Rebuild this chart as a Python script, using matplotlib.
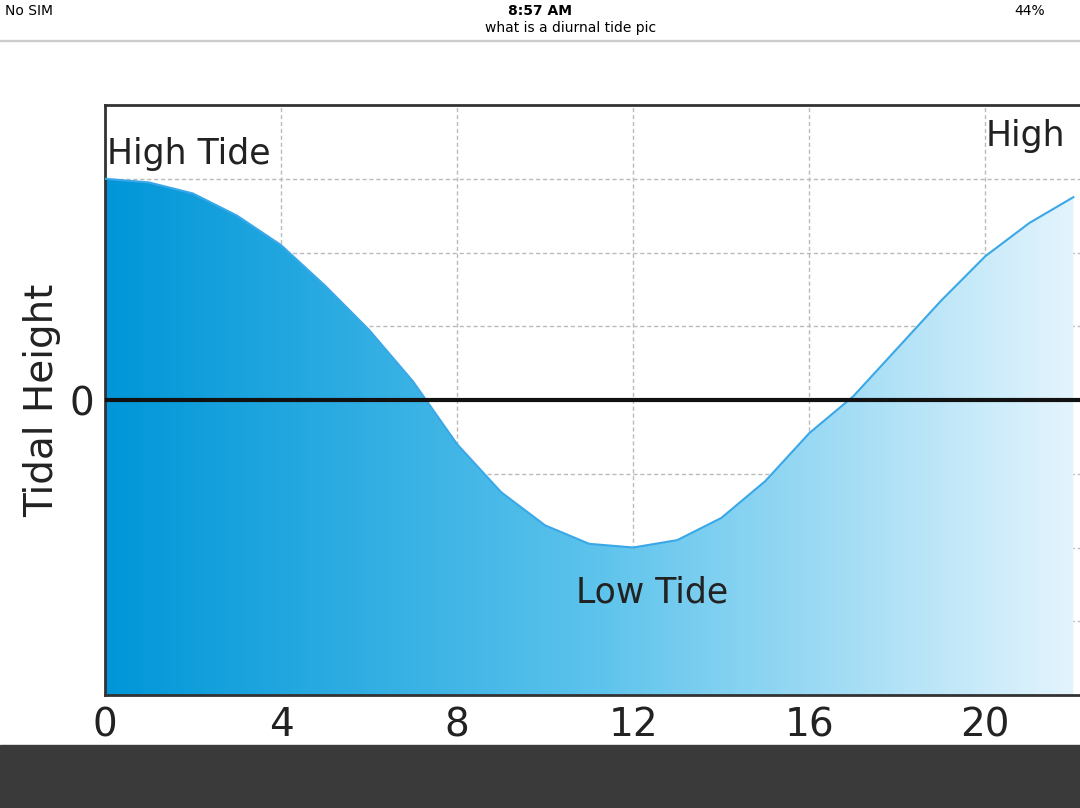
import matplotlib
matplotlib.use("Agg")
import matplotlib.pyplot as plt
import numpy as np
from matplotlib.colors import LinearSegmentedColormap
from matplotlib.patches import Rectangle

hours = list(range(23))
height = [3.0, 2.95, 2.8, 2.5, 2.1, 1.55, 0.95, 0.25, -0.6, -1.25, -1.7, -1.95,
          -2.0, -1.9, -1.6, -1.1, -0.45, 0.05, 0.7, 1.35, 1.95, 2.4, 2.75]
xticks = [0, 4, 8, 12, 16, 20]

fig = plt.figure(figsize=(10.8, 8.08), dpi=100)
fig.patch.set_facecolor("white")
ax = fig.add_axes([105/1080, 113/808, 1 - 105/1080 + 0.002, 590/808])
ax.set_xlim(0, 22.2)
ax.set_ylim(-4, 4)

x = np.array(hours, float); y = np.array(height)
cmap = LinearSegmentedColormap.from_list("g", ["#0096d8", "#5cc3ec", "#e6f5fd"])
img = ax.imshow(np.linspace(0, 1, 256)[None, :], extent=[0, 22.2, -4, 4], aspect="auto",
                cmap=cmap, zorder=1)
poly = ax.fill_between(x, y, -4, color="none")
path = poly.get_paths()[0]
from matplotlib.patches import PathPatch
pp = PathPatch(path, transform=ax.transData, facecolor="none", edgecolor="none")
ax.add_patch(pp)
img.set_clip_path(pp)
ax.plot(x, y, color="#3aa8e8", lw=1.5, zorder=3)

ax.set_xticks(xticks)
ax.set_yticks([-3, -2, -1, 0, 1, 2, 3], labels=["", "", "", "0", "", "", ""])
ax.grid(True, color="#bbbbbb", ls=(0, (3, 2)), lw=1, zorder=0)
ax.set_axisbelow(True)
ax.axhline(0, color="#111111", lw=3, zorder=4)
ax.tick_params(length=0, labelsize=28, colors="#222222", pad=8)
for s in ax.spines.values():
    s.set_color("#333333"); s.set_linewidth(2)
ax.set_ylabel("Tidal Height", fontsize=28, color="#222222", labelpad=6)
ax.text(0.05, 3.2, "High Tide", fontsize=25, color="#222222", zorder=5)
ax.text(20.0, 3.45, "High", fontsize=25, color="#222222", zorder=5)
ax.text(10.7, -2.75, "Low Tide", fontsize=25, color="#222222", zorder=5)

# phone status bar
fig.text(5/1080, 1 - 11/808, "No SIM", fontsize=10, va="center")
fig.text(540/1080, 1 - 11/808, "8:57 AM", fontsize=10, va="center", ha="center", weight="bold")
fig.text(1045/1080, 1 - 11/808, "44%", fontsize=10, va="center", ha="right")
fig.text(485/1080, 1 - 28/808, "what is a diurnal tide pic", fontsize=10, va="center")
fig.add_artist(Rectangle((0, 1 - 41/808), 1, 1/808, transform=fig.transFigure, color="#cccccc"))
fig.add_artist(Rectangle((0, 0), 1, 63/808, transform=fig.transFigure, color="#3a3a3a"))

fig.savefig("out.png", dpi=100)
